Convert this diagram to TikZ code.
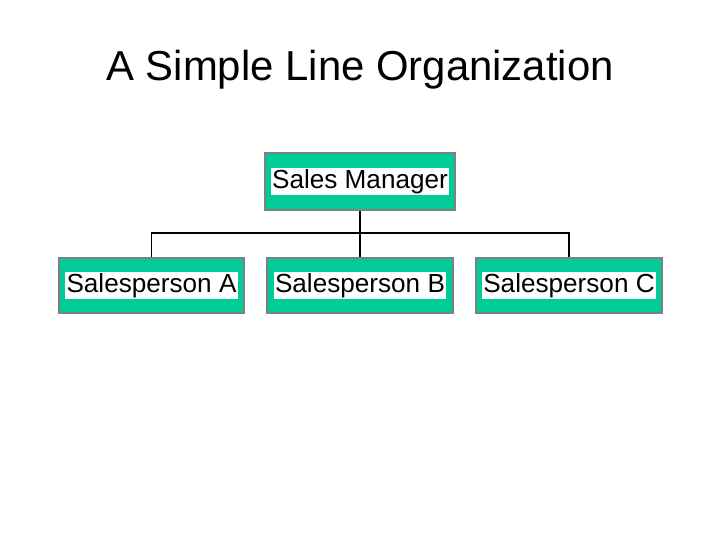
\documentclass[tikz,border=0pt]{standalone}
\usepackage{fontspec}
\setmainfont{Liberation Sans}
\definecolor{boxgreen}{RGB}{0,204,153}
\definecolor{boxgray}{RGB}{128,128,128}
\begin{document}
\begin{tikzpicture}[x=0.75pt,y=-0.75pt,
  outer/.style={draw=boxgray,line width=1.5pt,fill=boxgreen,minimum width=#1*0.75pt,minimum height=55*0.75pt,inner sep=0pt},
  lbl/.style={fill=white,inner sep=1pt,font=\fontsize{19.6pt}{22pt}\selectfont},
  conn/.style={line width=1.3pt,black}]
\useasboundingbox (0,0) rectangle (720,540);
\node[font=\fontsize{31.4pt}{36pt}\selectfont] (title) at (360,70) {A Simple Line Organization};
\node[outer=190,minimum height=57*0.75pt] (m) at (360,181.5) {};
\node[lbl] (ml) at (m.center) {Sales Manager};
\node[outer=185] (a) at (151.5,285.5) {};
\node[lbl] (al) at (a.center) {Salesperson A};
\node[outer=186] (b) at (360,285.5) {};
\node[lbl] (bl) at (b.center) {Salesperson B};
\node[outer=186] (c) at (569,285.5) {};
\node[lbl] (cl) at (c.center) {Salesperson C};
\coordinate (j) at (360,233);
\draw[conn] (m.south) -- (b.north);
\draw[conn] (a.north) |- (j) -| (c.north);
\end{tikzpicture}
\end{document}
